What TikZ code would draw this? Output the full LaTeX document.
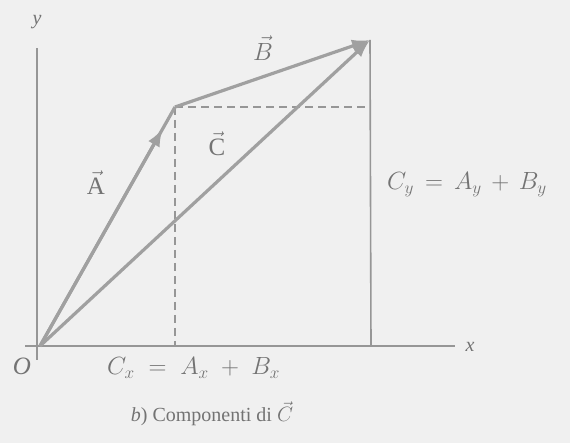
\documentclass[tikz,border=0pt]{standalone}
\usepackage{fontspec}
\setmainfont{Liberation Serif}
\usetikzlibrary{arrows.meta,calc}
\definecolor{bg}{RGB}{240,240,240}
\definecolor{vec}{RGB}{160,160,160}
\definecolor{ax}{RGB}{150,150,150}
\definecolor{txt}{RGB}{115,115,115}
\begin{document}
\begin{tikzpicture}[x=1pt,y=-1pt,
  vecline/.style={draw=vec,line width=3.2pt},
  vectip/.style={-{Latex[length=18pt,width=13pt]},draw=vec,fill=vec,line width=3.2pt},
  axis/.style={draw=ax,line width=1.8pt},
  helper/.style={draw=ax,line width=1.3pt,dash pattern=on 8pt off 5pt},
  lbl/.style={text=txt,font=\fontsize{20}{24}\selectfont,inner sep=1pt},
  mlbl/.style={text=txt,font=\fontsize{25}{30}\selectfont,inner sep=1pt}]
\fill[bg] (0,0) rectangle (570,443);
\useasboundingbox (0,0) rectangle (570,443);
% points
\coordinate (O) at (40,346);
\coordinate (P) at (175,107);
\coordinate (Q) at (370,40);
\coordinate (Px) at (175,346);
\coordinate (Py) at (371,107);
\coordinate (Qx) at (371,346);
\coordinate (Xs) at (25,346);
\coordinate (Xe) at (455,346);
\coordinate (Ys) at (37,360);
\coordinate (Ye) at (37,48);
\coordinate (Ah) at ($(O)!0.91!(P)$);
% axes
\draw[axis] (Xs) -- (Xe);
\draw[axis] (Ys) -- (Ye);
% components
\draw[helper] (P) -- (Px);
\draw[helper] (P) -- (Py);
\draw[draw=ax,line width=1.6pt] (Q) -- (Qx);
% vectors
\draw[vecline] (O) -- (P);
\draw[vectip] (O) -- (Ah);
\draw[vectip] (P) -- (Q);
\draw[vectip] (O) -- (Q);
% labels
\node[lbl] (ylab) at (37,22) {\itshape y};
\node[lbl] (xlab) at (470,347) {\itshape x};
\node[mlbl] (olab) at (22,366) {\itshape O};
\node[mlbl] (alab) at (96,183) {$\vec{\mathrm{A}}$};
\node[mlbl] (blab) at (263,48) {$\vec{B}$};
\node[mlbl] (clab) at (217,144) {$\vec{\mathrm{C}}$};
\node[mlbl,anchor=west] (cylab) at (386,185) {$C_y \mathrel{\,=\,} A_y \mathbin{\,+\,} B_y$};
\node[mlbl,anchor=west] (cxlab) at (106,368) {$C_x \mathrel{\;=\;} A_x \mathbin{\;+\;} B_x$};
\node[lbl] (cap) at (212,414) {\textit{b}) Componenti di $\vec{C}$};
\end{tikzpicture}
\end{document}
